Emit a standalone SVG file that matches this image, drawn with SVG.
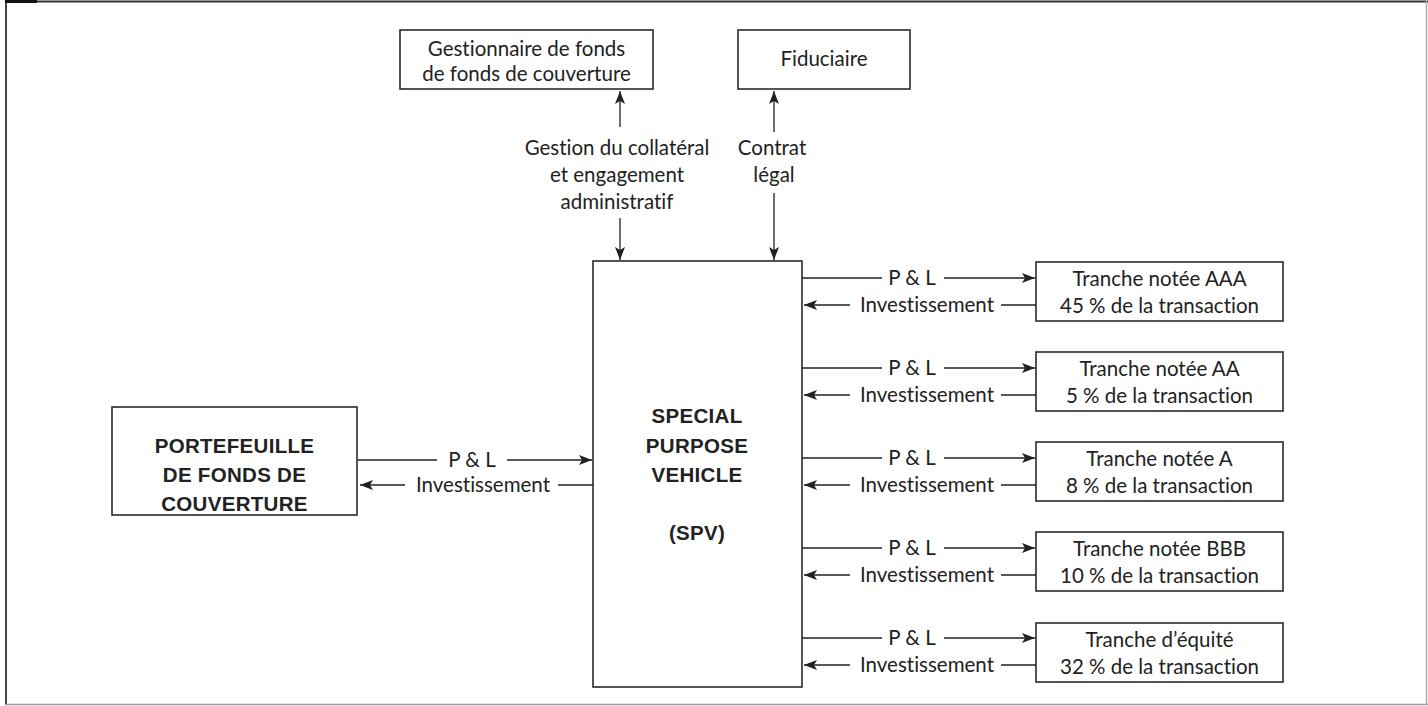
<svg xmlns="http://www.w3.org/2000/svg" width="1428" height="706" viewBox="0 0 1428 706">
<defs>
<style>
.box{fill:#fff;stroke:#2a2a2a;stroke-width:1.6}
.t{font-family:Lato,"Liberation Sans",sans-serif;font-size:20.5px;fill:#222;text-anchor:middle;font-variant-ligatures:none;font-feature-settings:"liga" 0,"dlig" 0}
.b{font-family:"Liberation Sans",Arial,sans-serif;font-size:20.5px;font-weight:bold;fill:#222;text-anchor:middle;letter-spacing:0.3px}
.c{stroke:#222;stroke-width:1.3;fill:none}
.a{marker-end:url(#ah)}
</style>
<marker id="ah" markerUnits="userSpaceOnUse" markerWidth="14" markerHeight="11" refX="13" refY="5.5" orient="auto">
<path d="M0,0.5 L13,5.5 L0,10.5 L3,5.5 z" fill="#222"/>
</marker>
</defs>
<rect width="1428" height="706" fill="#fff"/>
<g id="frame">
<line x1="5" y1="1.5" x2="1428" y2="1.5" stroke="#333" stroke-width="2"/>
<line x1="6" y1="0" x2="6" y2="705" stroke="#444" stroke-width="2"/>
<line x1="5" y1="704.5" x2="1428" y2="704.5" stroke="#999" stroke-width="1.5"/>
<line x1="1426.5" y1="0" x2="1426.5" y2="705" stroke="#aaa" stroke-width="1.5"/>
<rect x="5" y="0" width="32" height="3" fill="#111"/>
</g>
<g id="gestionnaire">
<rect class="box" x="400" y="30" width="253" height="59"/>
<text class="t" x="526.5" y="56">Gestionnaire de fonds</text>
<text class="t" x="526.5" y="81">de fonds de couverture</text>
</g>
<g id="fiduciaire">
<rect class="box" x="738" y="30" width="172" height="59"/>
<text class="t" x="824" y="66">Fiduciaire</text>
</g>
<g id="spv">
<rect class="box" x="593" y="261" width="209" height="426"/>
<text class="b" x="697" y="423">SPECIAL</text>
<text class="b" x="697" y="453">PURPOSE</text>
<text class="b" x="697" y="482">VEHICLE</text>
<text class="b" x="697" y="540">(SPV)</text>
</g>
<g id="portefeuille">
<rect class="box" x="112" y="407" width="245" height="108"/>
<text class="b" x="234.5" y="453">PORTEFEUILLE</text>
<text class="b" x="234.5" y="482">DE FONDS DE</text>
<text class="b" x="234.5" y="511">COUVERTURE</text>
</g>
<g id="tranche-aaa">
<rect class="box" x="1036" y="262" width="247" height="59"/>
<text class="t" x="1159.5" y="286">Tranche notée AAA</text>
<text class="t" x="1159.5" y="313">45 % de la transaction</text>
</g>
<g id="tranche-aa">
<rect class="box" x="1036" y="352" width="247" height="59"/>
<text class="t" x="1159.5" y="376">Tranche notée AA</text>
<text class="t" x="1159.5" y="403">5 % de la transaction</text>
</g>
<g id="tranche-a">
<rect class="box" x="1036" y="442" width="247" height="59"/>
<text class="t" x="1159.5" y="466">Tranche notée A</text>
<text class="t" x="1159.5" y="493">8 % de la transaction</text>
</g>
<g id="tranche-bbb">
<rect class="box" x="1036" y="532" width="247" height="59"/>
<text class="t" x="1159.5" y="556">Tranche notée BBB</text>
<text class="t" x="1159.5" y="583">10 % de la transaction</text>
</g>
<g id="tranche-equite">
<rect class="box" x="1036" y="623" width="247" height="59"/>
<text class="t" x="1159.5" y="647">Tranche d’équité</text>
<text class="t" x="1159.5" y="674">32 % de la transaction</text>
</g>
<g id="connectors">
<line class="c a" x1="620" y1="127" x2="620" y2="91"/>
<line class="c a" x1="620" y1="218" x2="620" y2="260"/>
<text class="t" x="617" y="155">Gestion du collatéral</text>
<text class="t" x="617" y="182">et engagement</text>
<text class="t" x="617" y="209">administratif</text>
<line class="c a" x1="774" y1="132" x2="774" y2="91"/>
<line class="c a" x1="774" y1="193" x2="774" y2="260"/>
<text class="t" x="772" y="155">Contrat</text>
<text class="t" x="774" y="182">légal</text>
<line class="c" x1="358" y1="460" x2="437" y2="460"/>
<text class="t" x="472" y="467">P &amp; L</text>
<line class="c a" x1="507" y1="460" x2="592" y2="460"/>
<line class="c a" x1="405" y1="485" x2="360" y2="485"/>
<text class="t" x="483" y="492">Investissement</text>
<line class="c" x1="558" y1="485" x2="593" y2="485"/>
<g id="rows">
<line class="c" x1="802" y1="278" x2="882" y2="278"/><text class="t" x="912" y="285">P &amp; L</text><line class="c a" x1="944" y1="278" x2="1035" y2="278"/>
<line class="c a" x1="850" y1="305" x2="804" y2="305"/><text class="t" x="927" y="312">Investissement</text><line class="c" x1="1001" y1="305" x2="1036" y2="305"/>
<line class="c" x1="802" y1="368" x2="882" y2="368"/><text class="t" x="912" y="375">P &amp; L</text><line class="c a" x1="944" y1="368" x2="1035" y2="368"/>
<line class="c a" x1="850" y1="395" x2="804" y2="395"/><text class="t" x="927" y="402">Investissement</text><line class="c" x1="1001" y1="395" x2="1036" y2="395"/>
<line class="c" x1="802" y1="458" x2="882" y2="458"/><text class="t" x="912" y="465">P &amp; L</text><line class="c a" x1="944" y1="458" x2="1035" y2="458"/>
<line class="c a" x1="850" y1="485" x2="804" y2="485"/><text class="t" x="927" y="492">Investissement</text><line class="c" x1="1001" y1="485" x2="1036" y2="485"/>
<line class="c" x1="802" y1="548" x2="882" y2="548"/><text class="t" x="912" y="555">P &amp; L</text><line class="c a" x1="944" y1="548" x2="1035" y2="548"/>
<line class="c a" x1="850" y1="575" x2="804" y2="575"/><text class="t" x="927" y="582">Investissement</text><line class="c" x1="1001" y1="575" x2="1036" y2="575"/>
<line class="c" x1="802" y1="638" x2="882" y2="638"/><text class="t" x="912" y="645">P &amp; L</text><line class="c a" x1="944" y1="638" x2="1035" y2="638"/>
<line class="c a" x1="850" y1="665" x2="804" y2="665"/><text class="t" x="927" y="672">Investissement</text><line class="c" x1="1001" y1="665" x2="1036" y2="665"/>
</g>
</g>
</svg>
